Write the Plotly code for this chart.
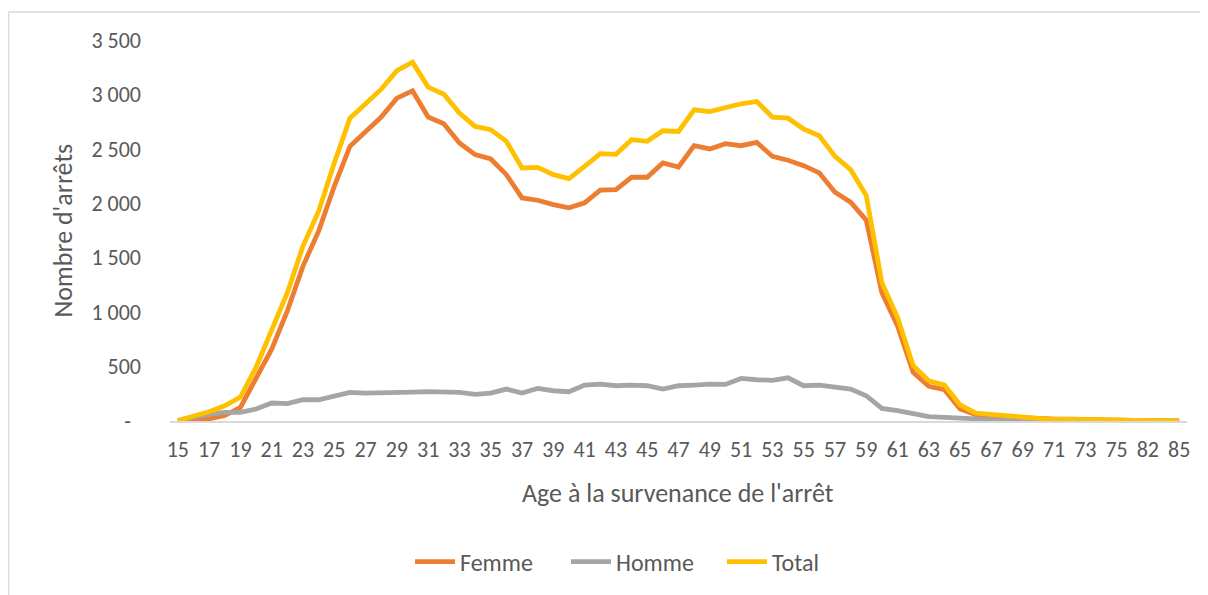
import plotly.graph_objects as go

ages = [str(a) for a in range(15, 76)] + ["77", "82", "84", "85"]

femme = [2, 5, 20, 50, 125, 385, 660, 1011, 1423, 1744, 2156, 2523, 2660, 2792, 2966, 3033,
         2792, 2731, 2554, 2447, 2407, 2263, 2049, 2028, 1988, 1958, 2004, 2120, 2126, 2239,
         2239, 2370, 2333, 2529, 2499, 2547, 2529, 2559, 2431, 2395, 2346, 2279, 2102, 2010,
         1845, 1179, 873, 446, 318, 287, 110, 58, 50, 34, 30, 21, 16, 16, 11, 11, 8, 5, 5, 3, 2]

homme = [3, 34, 64, 79, 80, 110, 165, 159, 195, 195, 232, 263, 256, 263, 263, 266, 269, 269,
         263, 244, 256, 293, 257, 299, 278, 269, 330, 339, 324, 330, 324, 293, 324, 330, 339,
         336, 391, 379, 373, 397, 324, 330, 308, 293, 232, 116, 95, 64, 40, 34, 27, 12, 9, 6,
         4, 3, 2, 1, 1, 1, 1, 0, 0, 0, 0]

total = [5, 40, 85, 140, 220, 492, 828, 1179, 1607, 1927, 2370, 2782, 2914, 3048, 3219, 3296,
         3067, 3002, 2828, 2706, 2676, 2569, 2324, 2330, 2263, 2227, 2340, 2456, 2450, 2584,
         2569, 2666, 2660, 2859, 2843, 2883, 2914, 2935, 2792, 2782, 2682, 2621, 2431, 2309,
         2071, 1271, 950, 507, 369, 330, 147, 73, 61, 40, 34, 24, 18, 18, 12, 12, 9, 5, 5, 3, 2]

y_tickvals = [0, 500, 1000, 1500, 2000, 2500, 3000, 3500]
y_ticktext = ["-\u00a0\u00a0", "500", "1 000", "1 500", "2 000", "2 500", "3 000", "3 500"]

FONT = "Carlito, Calibri, Lato, sans-serif"
GREY_TXT = "#595959"

fig = go.Figure()
fig.add_trace(go.Scatter(x=ages, y=femme, name="Femme", mode="lines",
                         line=dict(color="#ED7D31", width=4.8)))
fig.add_trace(go.Scatter(x=ages, y=homme, name="Homme", mode="lines",
                         line=dict(color="#A5A5A5", width=4.8)))
fig.add_trace(go.Scatter(x=ages, y=total, name="Total", mode="lines",
                         line=dict(color="#FFC000", width=4.8)))

# page has an 8px body margin: figure occupies screen (8,8)-(1208,595)
OFF = 8
W, H = 1208 - OFF, 595 - OFF
# plot area in screen coords: x 170..1187, y 40..422
SL, SR, ST, SB = 170, 1187, 40, 422
L, T = SL - OFF, ST - OFF
R = W - (SR - OFF)
B = H - (SB - OFF)
pw, ph = SR - SL, SB - ST


def px(x):
    return (x - SL) / pw


def py(y):
    return (SB - y) / ph


fig.update_layout(
    width=W, height=H,
    margin=dict(l=L, r=R, t=T, b=B, pad=0),
    paper_bgcolor="white", plot_bgcolor="white",
    font=dict(family=FONT, color=GREY_TXT, size=22),
    showlegend=True,
    legend=dict(orientation="h", x=px(644), y=py(562), xanchor="center", yanchor="middle",
                font=dict(size=24, color=GREY_TXT), entrywidth=101, itemwidth=40),
    xaxis=dict(type="category", range=[-0.5, len(ages) - 0.5],
               tickmode="array", tickvals=ages[::2], ticktext=ages[::2],
               showgrid=False, zeroline=False, showline=True, linecolor="#D9D9D9",
               linewidth=2, ticks="", tickfont=dict(size=22, color=GREY_TXT),
               ticklabelstandoff=8, layer="below traces", fixedrange=True),
    yaxis=dict(range=[0, 3500], tickmode="array", tickvals=y_tickvals, ticktext=y_ticktext,
               showgrid=False, zeroline=False, showline=False, ticks="",
               tickfont=dict(size=22, color=GREY_TXT), ticklabelstandoff=28,
               layer="below traces", fixedrange=True),
    annotations=[
        dict(text="Age à la survenance de l'arrêt", xref="paper", yref="paper",
             x=px(678), y=py(494), xanchor="center", yanchor="middle", showarrow=False,
             font=dict(size=26, color=GREY_TXT)),
        dict(text="Nombre d'arrêts", xref="paper", yref="paper",
             x=px(62), y=py(231), xanchor="center", yanchor="middle", showarrow=False,
             textangle=-90, font=dict(size=26, color=GREY_TXT)),
    ],
    shapes=[
        dict(type="line", xref="paper", yref="paper", x0=px(8.5), x1=px(8.5),
             y0=py(12), y1=py(600), line=dict(color="#D9D9D9", width=1.5)),
        dict(type="line", xref="paper", yref="paper", x0=px(8.5), x1=px(1210),
             y0=py(12), y1=py(12), line=dict(color="#D9D9D9", width=1.5)),
    ],
)

fig.write_html("out.html")
